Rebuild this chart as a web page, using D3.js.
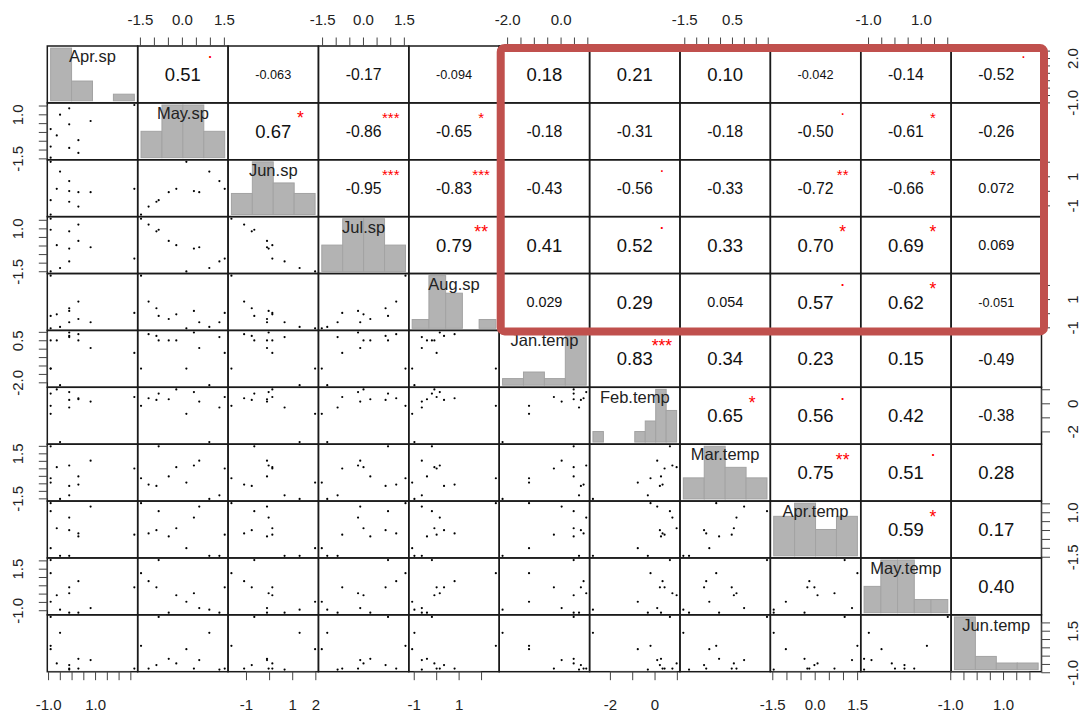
<!DOCTYPE html>
<html>
<head>
<meta charset="utf-8">
<script src="https://cdn.jsdelivr.net/npm/d3@7"></script>
<style>
  body { margin: 0; background: #fff; }
  svg { display: block; font-family: "Liberation Sans", Arial, sans-serif; }
</style>
</head>
<body>
<svg id="mainsvg" width="1080" height="713"></svg>
<script>
// variables, in matrix order
var varNames = ["Apr.sp", "May.sp", "Jun.sp", "Jul.sp", "Aug.sp",
                "Jan.temp", "Feb.temp", "Mar.temp", "Apr.temp", "May.temp", "Jun.temp"];

// standardised values, 12 observations each (same order in every array)
var aprSp   = [-0.89, -0.89, -0.89, -0.63, -0.49, -0.10, -0.10, -0.10,  0.29,  0.29,  0.81,  2.67];
var maySp   = [-1.46, -0.83,  0.16, -0.20,  0.98, -0.91,  0.43,  1.34, -1.19, -0.47,  0.62,  1.53];
var junSp   = [-1.63, -0.64,  1.99,  0.14,  1.32, -0.75, -0.02,  0.67, -1.08, -0.09, -0.09,  0.14];
var julSp   = [ 1.56,  0.92, -1.51,  0.02, -1.31,  0.83, -0.18, -0.93,  1.22,  0.27, -0.10, -0.76];
var augSp   = [ 2.66, -0.19, -1.07, -0.08, -0.97,  0.35,  0.16, -0.64,  0.82, -0.41, -0.64,  0.02];
var janTemp = [-1.18,  0.49, -1.18,  0.49, -2.17,  0.76,  0.96,  0.69,  0.86,  0.49,  0.04, -0.25];
var febTemp = [-0.18,  0.69, -0.75,  0.99, -2.76,  0.24,  0.80, -0.30,  0.36,  0.29,  0.12,  0.45];
var marTemp = [-0.16,  1.97, -0.45,  0.58, -1.54, -0.67,  0.69, -1.30, -0.58, -0.04,  1.01,  0.49];
var aprTemp = [ 1.51,  1.06, -1.02,  0.10, -1.45, -0.01,  0.70, -1.45, -0.19, -0.36,  1.32, -0.26];
var mayTemp = [ 1.23,  2.02, -0.49, -0.10, -0.97,  0.38,  0.02, -1.15,  0.75, -1.15, -0.87,  0.38];
var junTemp = [ 0.59,  2.33,  0.39, -0.47,  1.37, -0.57, -0.78, -0.84, -0.78, -0.19, -0.27, -0.78];
var series = [aprSp, maySp, junSp, julSp, augSp, janTemp, febTemp, marTemp, aprTemp, mayTemp, junTemp];

// correlations above the diagonal, row by row
var corRows = [
  [0.51, -0.063, -0.17, -0.094, 0.18, 0.21, 0.10, -0.042, -0.14, -0.52],
  [0.67, -0.86, -0.65, -0.18, -0.31, -0.18, -0.50, -0.61, -0.26],
  [-0.95, -0.83, -0.43, -0.56, -0.33, -0.72, -0.66, 0.072],
  [0.79, 0.41, 0.52, 0.33, 0.70, 0.69, 0.069],
  [0.029, 0.29, 0.054, 0.57, 0.62, -0.051],
  [0.83, 0.34, 0.23, 0.15, -0.49],
  [0.65, 0.56, 0.42, -0.38],
  [0.75, 0.51, 0.28],
  [0.59, 0.17],
  [0.40]
];
var corStars = [
  [".", "", "", "", "", "", "", "", "", "."],
  ["*", "***", "*", "", "", "", ".", "*", ""],
  ["***", "***", "", ".", "", "**", "*", ""],
  ["**", "", ".", "", "*", "*", ""],
  ["", "", "", ".", "*", ""],
  ["***", "", "", "", ""],
  ["*", ".", "", ""],
  ["**", ".", ""],
  ["*", ""],
  [""]
];

// histogram breaks on the diagonal
var histBreaks = [
  [-1, 0, 1, 2, 3],
  [-2, -1, 0, 1, 2],
  [-2, -1, 0, 1, 2],
  [-2, -1, 0, 1, 2],
  [-2, -1, 0, 1, 2, 3],
  [-3, -2, -1, 0, 1],
  [-3, -2.5, -2, -1.5, -1, -0.5, 0, 0.5, 1],
  [-2, -1, 0, 1, 2],
  [-2, -1, 0, 1, 2],
  [-2, -1, 0, 1, 2, 3],
  [-1, 0, 1, 2, 3]
];

// axis ticks, and which of them carry a label on the column / row axis
var axisTicks = [
  [-1, -0.5, 0, 0.5, 1, 1.5, 2, 2.5],
  [-1.5, -1, -0.5, 0, 0.5, 1, 1.5],
  [-1, 0, 1, 2],
  [-1.5, -1, -0.5, 0, 0.5, 1, 1.5],
  [-1, 0, 1, 2],
  [-2, -1.5, -1, -0.5, 0, 0.5, 1],
  [-2, -1, 0, 1],
  [-1.5, -1, -0.5, 0, 0.5, 1, 1.5, 2],
  [-1.5, -1, -0.5, 0, 0.5, 1, 1.5],
  [-1, -0.5, 0, 0.5, 1, 1.5, 2],
  [-1, -0.5, 0, 0.5, 1, 1.5, 2]
];
var colTickLabels = [[-1, 1], [-1.5, 0, 1.5], [-1, 1, 2], [-1.5, 0, 1.5], [-1, 1],
                     [-2, 0], [-2, 0], [-1.5, 0.5], [-1.5, 0, 1.5], [-1, 1], [-1, 1]];
var rowTickLabels = [[-1, 2], [-1.5, 1], [-1, 1], [-1.5, 1], [-1, 1],
                     [-2, 0.5], [-2, 0], [-1.5, 1.5], [-1.5, 1], [-1, 1.5], [-1, 1.5]];

// highlighted block of correlations (rows 0-4, columns 5-10)
var highlightRows = [0, 4];
var highlightCols = [5, 10];

var svg = d3.select("#mainsvg");
var n = varNames.length;
var gridLeft = 47.3, gridRight = 1041.5, gridTop = 46, gridBottom = 671.7;

var colScale = d3.scaleBand().domain(d3.range(n)).range([gridLeft, gridRight]);
var rowScale = d3.scaleBand().domain(d3.range(n)).range([gridTop, gridBottom]);
var cw = colScale.bandwidth(), ch = rowScale.bandwidth();

function padded(ext){
    var r = ext[1] - ext[0];
    return [ext[0] - 0.04 * r, ext[1] + 0.04 * r];
}
var xScales = series.map(function(s){
    return d3.scaleLinear().domain(padded(d3.extent(s))).range([0, cw]);
});
var yScales = series.map(function(s){
    return d3.scaleLinear().domain(padded(d3.extent(s))).range([ch, 0]);
});

var loc = d3.formatLocale({decimal: ".", thousands: ",", grouping: [3], currency: ["", ""], minus: "-"});
var corFormat = loc.format(".2r");

// width of a number string in em (Arial metrics)
function strWidthEm(txt){
    var w = 0;
    for(var k = 0; k < txt.length; k++){
        var c = txt[k];
        w += c === "." ? 0.278 : (c === "-" ? 0.333 : 0.556);
    }
    return w;
}

function drawScatter(g, i, j){
    var pts = series[j].map(function(v, k){ return [v, series[i][k]]; });
    g.selectAll("circle").data(pts).enter().append("circle")
        .attr("cx", function(d){ return xScales[j](d[0]); })
        .attr("cy", function(d){ return yScales[i](d[1]); })
        .attr("r", 1.1)
        .attr("fill", "#000");
}

function drawHist(g, k){
    var br = histBreaks[k];
    var bins = d3.bin()
        .domain([br[0], br[br.length - 1]])
        .thresholds(br.slice(1, -1))(series[k]);
    var maxC = d3.max(bins, function(b){ return b.length; });
    var hx = d3.scaleLinear().domain(padded([br[0], br[br.length - 1]])).range([0, cw]);
    var hy = d3.scaleLinear().domain(padded([0, maxC])).range([ch, 0]);
    g.selectAll("rect.bar").data(bins).enter().append("rect")
        .attr("class", "bar")
        .attr("x", function(b){ return hx(b.x0); })
        .attr("width", function(b){ return hx(b.x1) - hx(b.x0); })
        .attr("y", function(b){ return hy(b.length); })
        .attr("height", function(b){ return hy(0) - hy(b.length); })
        .attr("fill", "#b3b3b3")
        .attr("stroke", "#a3a3a3")
        .attr("stroke-width", 1);
    g.append("text")
        .attr("x", cw / 2)
        .attr("y", 16)
        .attr("text-anchor", "middle")
        .attr("font-size", 16.5)
        .attr("fill", "#222")
        .text(varNames[k]);
}

function drawCor(g, i, j){
    var r = corRows[i][j - i - 1];
    var txt = corFormat(r);
    var fs = 36 / strWidthEm(txt);
    g.append("text")
        .attr("x", cw * 0.5)
        .attr("y", ch * 0.5 + 0.358 * fs)
        .attr("text-anchor", "middle")
        .attr("font-size", fs)
        .attr("fill", "#111")
        .text(txt);
    var s = corStars[i][j - i - 1];
    if(s){
        var sfs = s === "." ? fs : fs * 0.95;
        g.append("text")
            .attr("x", cw * 0.8)
            .attr("y", ch * 0.2 + (s === "." ? 0.05 : 0.58) * sfs)
            .attr("text-anchor", "middle")
            .attr("font-size", sfs)
            .attr("fill", "#ff0000")
            .text(s);
    }
}

var panels = svg.append("g").attr("id", "panels");
d3.range(n).forEach(function(i){
    d3.range(n).forEach(function(j){
        var g = panels.append("g")
            .attr("transform", "translate(" + colScale(j) + "," + rowScale(i) + ")");
        if(i === j) drawHist(g, i);
        else if(i > j) drawScatter(g, i, j);
        else drawCor(g, i, j);
        g.append("rect")
            .attr("width", cw).attr("height", ch)
            .attr("fill", "none")
            .attr("stroke", "#1a1a1a")
            .attr("stroke-width", 1.5);
    });
});

// axes: columns alternate bottom/top, rows alternate right/left
var tickLen = 8.5;
function tickFmt(k){
    var allInt = axisTicks[k].every(function(t){ return t === Math.round(t); });
    return allInt ? loc.format("d") : loc.format(".1f");
}
var axes = svg.append("g").attr("id", "axes");

d3.range(n).forEach(function(k){
    var f = tickFmt(k);
    var ticks = axisTicks[k];
    var isBottom = k % 2 === 0;
    var axis = (isBottom ? d3.axisBottom(xScales[k]) : d3.axisTop(xScales[k]))
        .tickValues(ticks)
        .tickSizeInner(tickLen).tickSizeOuter(0)
        .tickFormat(function(t){ return colTickLabels[k].indexOf(t) >= 0 ? f(t) : ""; });
    var ga = axes.append("g")
        .attr("transform", "translate(" + colScale(k) + "," + (isBottom ? gridBottom : gridTop) + ")")
        .call(axis);
    ga.select(".domain").remove();
    ga.append("line")
        .attr("x1", xScales[k](ticks[0])).attr("x2", xScales[k](ticks[ticks.length - 1]))
        .attr("stroke", "#444");
    ga.selectAll(".tick line").attr("stroke", "#444");
    ga.selectAll(".tick text")
        .attr("y", isBottom ? 38 : -21)
        .attr("dy", null)
        .attr("font-size", 15)
        .attr("font-family", "Liberation Sans, Arial, sans-serif")
        .attr("fill", "#222");
});

d3.range(n).forEach(function(k){
    var f = tickFmt(k);
    var ticks = axisTicks[k];
    var isRight = k % 2 === 0;
    var axis = (isRight ? d3.axisRight(yScales[k]) : d3.axisLeft(yScales[k]))
        .tickValues(ticks)
        .tickSizeInner(tickLen).tickSizeOuter(0)
        .tickFormat(function(t){ return rowTickLabels[k].indexOf(t) >= 0 ? f(t) : ""; });
    var ga = axes.append("g")
        .attr("transform", "translate(" + (isRight ? gridRight : gridLeft) + "," + rowScale(k) + ")")
        .call(axis);
    ga.select(".domain").remove();
    ga.append("line")
        .attr("y1", yScales[k](ticks[0])).attr("y2", yScales[k](ticks[ticks.length - 1]))
        .attr("stroke", "#444");
    ga.selectAll(".tick line").attr("stroke", "#444");
    ga.selectAll(".tick text")
        .attr("x", 0)
        .attr("y", isRight ? 36 : -24)
        .attr("dy", null)
        .attr("transform", "rotate(-90)")
        .attr("text-anchor", "middle")
        .attr("font-size", 15)
        .attr("font-family", "Liberation Sans, Arial, sans-serif")
        .attr("fill", "#222");
});

// red highlight box
var hx0 = colScale(highlightCols[0]) + 1.5;
var hx1 = colScale(highlightCols[1]) + cw + 2.5;
var hy0 = rowScale(highlightRows[0]) + 2;
var hy1 = rowScale(highlightRows[1]) + ch + 1;
svg.append("rect")
    .attr("x", hx0).attr("y", hy0)
    .attr("width", hx1 - hx0).attr("height", hy1 - hy0)
    .attr("rx", 4).attr("ry", 4)
    .attr("fill", "none")
    .attr("stroke", "#c0504d")
    .attr("stroke-width", 8);
</script>
</body>
</html>
